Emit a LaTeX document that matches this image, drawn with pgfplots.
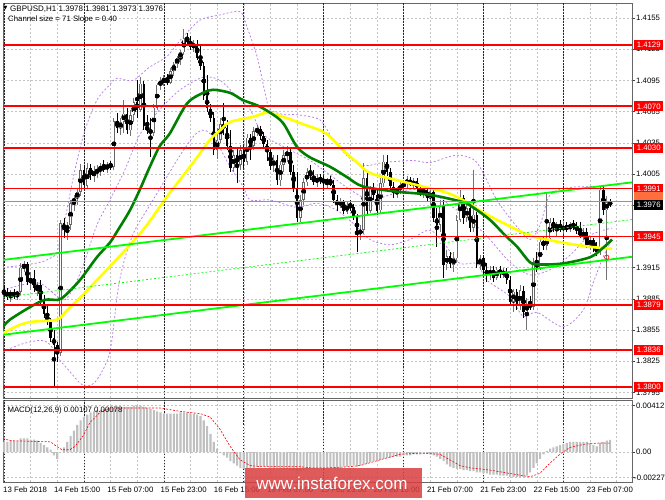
\documentclass[border=0pt]{standalone}
\usepackage{pgfplots}
\pgfplotsset{compat=1.18}
\usepackage{pgfplotstable}
\usepackage{fontspec}
\setmainfont{Liberation Sans}
\newfontfamily\dejavu{DejaVu Sans}
\newcommand\lbl{\fontsize{7.8}{9}\selectfont}
\definecolor{mared}{RGB}{255,0,0}
\definecolor{malime}{RGB}{0,255,0}
\definecolor{magreen}{RGB}{0,128,0}
\definecolor{mayellow}{RGB}{255,255,0}
\definecolor{mabb}{RGB}{185,125,235}
\definecolor{gridgray}{RGB}{195,195,195}
\definecolor{histgray}{RGB}{192,192,192}
\definecolor{wmred}{RGB}{218,62,62}
\definecolor{askor}{RGB}{255,110,60}

\pgfplotstableread{
i o h l c
0 1.3892 1.3898 1.3886 1.3890
1 1.3890 1.3895 1.3884 1.3888
2 1.3888 1.3893 1.3882 1.3891
3 1.3891 1.3894 1.3885 1.3888
4 1.3888 1.3893 1.3884 1.3892
5 1.3892 1.3920 1.3889 1.3915
6 1.3915 1.3921 1.3911 1.3918
7 1.3918 1.3920 1.3898 1.3901
8 1.3901 1.3911 1.3893 1.3905
9 1.3905 1.3913 1.3892 1.3895
10 1.3895 1.3901 1.3888 1.3898
11 1.3898 1.3903 1.3879 1.3884
12 1.3884 1.3889 1.3867 1.3870
13 1.3870 1.3879 1.3860 1.3863
14 1.3863 1.3867 1.3843 1.3847
15 1.3847 1.3855 1.3799 1.3841
16 1.3841 1.3843 1.3824 1.3833
17 1.3833 1.3961 1.3830 1.3958
18 1.3958 1.3963 1.3944 1.3951
19 1.3951 1.3959 1.3942 1.3956
20 1.3956 1.3980 1.3951 1.3977
21 1.3977 1.3985 1.3970 1.3982
22 1.3982 1.3992 1.3975 1.3988
23 1.3988 1.4015 1.3984 1.4009
24 1.4009 1.4014 1.3990 1.3994
25 1.3994 1.4016 1.3992 1.4011
26 1.4011 1.4015 1.3999 1.4004
27 1.4004 1.4013 1.3997 1.4007
28 1.4007 1.4014 1.4001 1.4009
29 1.4009 1.4016 1.4003 1.4012
30 1.4012 1.4018 1.4007 1.4010
31 1.4010 1.4017 1.4006 1.4014
32 1.4014 1.4018 1.4009 1.4012
33 1.4012 1.4059 1.4009 1.4056
34 1.4056 1.4064 1.4044 1.4049
35 1.4049 1.4059 1.4043 1.4055
36 1.4055 1.4076 1.4045 1.4063
37 1.4063 1.4068 1.4043 1.4047
38 1.4047 1.4067 1.4042 1.4062
39 1.4062 1.4078 1.4055 1.4074
40 1.4074 1.4095 1.4059 1.4067
41 1.4067 1.4098 1.4065 1.4092
42 1.4092 1.4095 1.4047 1.4051
43 1.4051 1.4062 1.4044 1.4047
44 1.4047 1.4059 1.4021 1.4045
45 1.4045 1.4072 1.4042 1.4069
46 1.4069 1.4093 1.4067 1.4091
47 1.4091 1.4098 1.4086 1.4094
48 1.4094 1.4100 1.4090 1.4096
49 1.4096 1.4101 1.4091 1.4093
50 1.4093 1.4107 1.4092 1.4104
51 1.4104 1.4113 1.4099 1.4111
52 1.4111 1.4119 1.4107 1.4117
53 1.4117 1.4124 1.4110 1.4122
54 1.4122 1.4144 1.4119 1.4136
55 1.4136 1.4141 1.4129 1.4132
56 1.4132 1.4138 1.4124 1.4127
57 1.4127 1.4134 1.4122 1.4130
58 1.4130 1.4134 1.4115 1.4117
59 1.4117 1.4129 1.4105 1.4109
60 1.4109 1.4113 1.4076 1.4080
61 1.4080 1.4100 1.4065 1.4068
62 1.4068 1.4072 1.4055 1.4059
63 1.4059 1.4065 1.4023 1.4028
64 1.4028 1.4049 1.4020 1.4038
65 1.4038 1.4059 1.4035 1.4053
66 1.4053 1.4073 1.4043 1.4049
67 1.4049 1.4057 1.4028 1.4032
68 1.4032 1.4047 1.4007 1.4011
69 1.4011 1.4028 1.4007 1.4023
70 1.4023 1.4030 1.3996 1.4014
71 1.4014 1.4033 1.4009 1.4028
72 1.4028 1.4032 1.4011 1.4017
73 1.4017 1.4043 1.4014 1.4040
74 1.4040 1.4043 1.4018 1.4032
75 1.4032 1.4050 1.4028 1.4046
76 1.4046 1.4052 1.4042 1.4048
77 1.4048 1.4051 1.4038 1.4042
78 1.4042 1.4045 1.4030 1.4034
79 1.4034 1.4038 1.4018 1.4026
80 1.4026 1.4030 1.4009 1.4013
81 1.4013 1.4023 1.4007 1.4018
82 1.4018 1.4023 1.3994 1.3999
83 1.3999 1.4018 1.3994 1.4014
84 1.4014 1.4028 1.4007 1.4023
85 1.4023 1.4032 1.4017 1.4026
86 1.4026 1.4030 1.4004 1.4007
87 1.4007 1.4014 1.3988 1.3992
88 1.3992 1.4007 1.3959 1.3963
89 1.3963 1.3985 1.3959 1.3980
90 1.3980 1.4001 1.3975 1.3997
91 1.3997 1.4011 1.3994 1.4007
92 1.4007 1.4014 1.3999 1.4003
93 1.4003 1.4009 1.3994 1.3997
94 1.3997 1.4005 1.3993 1.4001
95 1.4001 1.4005 1.3995 1.3999
96 1.3999 1.4003 1.3994 1.3997
97 1.3997 1.4001 1.3992 1.3999
98 1.3999 1.4003 1.3993 1.3995
99 1.3995 1.3999 1.3977 1.3980
100 1.3980 1.3985 1.3970 1.3975
101 1.3975 1.3982 1.3972 1.3979
102 1.3979 1.3980 1.3967 1.3969
103 1.3969 1.3978 1.3967 1.3975
104 1.3975 1.3980 1.3970 1.3973
105 1.3973 1.3976 1.3961 1.3964
106 1.3964 1.3967 1.3930 1.3948
107 1.3948 1.3956 1.3942 1.3951
108 1.3951 1.4016 1.3947 1.4001
109 1.4001 1.4007 1.3966 1.3970
110 1.3970 1.3994 1.3968 1.3992
111 1.3992 1.3996 1.3980 1.3985
112 1.3985 1.3992 1.3966 1.3970
113 1.3970 1.4001 1.3968 1.3996
114 1.3996 1.4023 1.3993 1.4017
115 1.4017 1.4023 1.4003 1.4007
116 1.4007 1.4011 1.3990 1.3993
117 1.3993 1.3997 1.3982 1.3987
118 1.3987 1.3993 1.3982 1.3991
119 1.3991 1.3997 1.3986 1.3993
120 1.3993 1.3999 1.3990 1.3996
121 1.3996 1.4003 1.3992 1.3999
122 1.3999 1.4002 1.3993 1.3995
123 1.3995 1.4001 1.3991 1.3998
124 1.3998 1.4001 1.3988 1.3991
125 1.3991 1.3995 1.3984 1.3987
126 1.3987 1.3993 1.3982 1.3990
127 1.3990 1.3993 1.3978 1.3982
128 1.3982 1.3992 1.3975 1.3988
129 1.3988 1.3990 1.3959 1.3963
130 1.3963 1.3972 1.3935 1.3956
131 1.3956 1.3980 1.3949 1.3975
132 1.3975 1.3980 1.3905 1.3918
133 1.3918 1.3932 1.3913 1.3926
134 1.3926 1.3930 1.3915 1.3918
135 1.3918 1.3930 1.3911 1.3924
136 1.3924 1.3966 1.3920 1.3961
137 1.3961 1.3990 1.3959 1.3982
138 1.3982 1.3985 1.3957 1.3963
139 1.3963 1.3975 1.3959 1.3972
140 1.3972 1.3975 1.3949 1.3953
141 1.3953 1.4009 1.3949 1.3966
142 1.3966 1.3968 1.3915 1.3918
143 1.3918 1.3927 1.3913 1.3924
144 1.3924 1.3927 1.3908 1.3913
145 1.3913 1.3920 1.3901 1.3908
146 1.3908 1.3917 1.3903 1.3913
147 1.3913 1.3917 1.3901 1.3905
148 1.3905 1.3916 1.3903 1.3913
149 1.3913 1.3917 1.3905 1.3909
150 1.3909 1.3915 1.3905 1.3911
151 1.3911 1.3915 1.3899 1.3903
152 1.3903 1.3907 1.3878 1.3882
153 1.3882 1.3895 1.3872 1.3892
154 1.3892 1.3895 1.3874 1.3878
155 1.3878 1.3898 1.3874 1.3893
156 1.3893 1.3897 1.3867 1.3872
157 1.3872 1.3886 1.3855 1.3880
158 1.3880 1.3888 1.3874 1.3877
159 1.3877 1.3924 1.3874 1.3920
160 1.3920 1.3930 1.3911 1.3915
161 1.3915 1.3943 1.3913 1.3940
162 1.3940 1.3945 1.3932 1.3936
163 1.3936 1.3987 1.3932 1.3943
164 1.3943 1.3963 1.3942 1.3959
165 1.3959 1.3963 1.3949 1.3953
166 1.3953 1.3959 1.3945 1.3956
167 1.3956 1.3961 1.3949 1.3951
168 1.3951 1.3959 1.3947 1.3955
169 1.3955 1.3959 1.3949 1.3952
170 1.3952 1.3959 1.3949 1.3957
171 1.3957 1.3961 1.3951 1.3954
172 1.3954 1.3959 1.3947 1.3951
173 1.3951 1.3959 1.3943 1.3945
174 1.3945 1.3953 1.3942 1.3949
175 1.3949 1.3953 1.3934 1.3937
176 1.3937 1.3945 1.3932 1.3942
177 1.3942 1.3943 1.3930 1.3934
178 1.3934 1.3940 1.3926 1.3930
179 1.3930 1.3994 1.3927 1.3990
180 1.3990 1.3994 1.3966 1.3970
181 1.3970 1.3984 1.3903 1.3978
182 1.3978 1.3981 1.3973 1.3976
}\candles

\pgfplotstableread{
i v
0 0.0009
1 0.0009
2 0.0010
3 0.0010
4 0.0010
5 0.0012
6 0.0012
7 0.0012
8 0.0011
9 0.0011
10 0.0010
11 0.0008
12 0.0006
13 0.0004
14 0.0002
15 -0.0003
16 -0.0006
17 0.0000
18 0.0004
19 0.0009
20 0.0014
21 0.0019
22 0.0024
23 0.0028
24 0.0031
25 0.0033
26 0.0035
27 0.0036
28 0.0037
29 0.0037
30 0.0038
31 0.0038
32 0.0038
33 0.0039
34 0.0039
35 0.0039
36 0.0040
37 0.0040
38 0.0040
39 0.0041
40 0.0041
41 0.0041
42 0.0040
43 0.0039
44 0.0038
45 0.0037
46 0.0036
47 0.0035
48 0.0034
49 0.0034
50 0.0034
51 0.0034
52 0.0034
53 0.0035
54 0.0035
55 0.0035
56 0.0034
57 0.0034
58 0.0033
59 0.0032
60 0.0028
61 0.0023
62 0.0016
63 0.0009
64 0.0003
65 -0.0001
66 -0.0003
67 -0.0005
68 -0.0008
69 -0.0010
70 -0.0012
71 -0.0014
72 -0.0015
73 -0.0015
74 -0.0014
75 -0.0014
76 -0.0013
77 -0.0013
78 -0.0013
79 -0.0013
80 -0.0014
81 -0.0014
82 -0.0014
83 -0.0015
84 -0.0015
85 -0.0015
86 -0.0016
87 -0.0016
88 -0.0017
89 -0.0017
90 -0.0016
91 -0.0015
92 -0.0015
93 -0.0015
94 -0.0014
95 -0.0014
96 -0.0014
97 -0.0014
98 -0.0014
99 -0.0014
100 -0.0014
101 -0.0014
102 -0.0013
103 -0.0013
104 -0.0012
105 -0.0012
106 -0.0013
107 -0.0012
108 -0.0011
109 -0.0010
110 -0.0009
111 -0.0008
112 -0.0007
113 -0.0007
114 -0.0006
115 -0.0005
116 -0.0005
117 -0.0004
118 -0.0004
119 -0.0004
120 -0.0003
121 -0.0003
122 -0.0003
123 -0.0002
124 -0.0002
125 -0.0002
126 -0.0001
127 -0.0001
128 -0.0002
129 -0.0003
130 -0.0004
131 -0.0006
132 -0.0008
133 -0.0011
134 -0.0013
135 -0.0014
136 -0.0015
137 -0.0015
138 -0.0016
139 -0.0016
140 -0.0017
141 -0.0017
142 -0.0018
143 -0.0018
144 -0.0019
145 -0.0019
146 -0.0020
147 -0.0020
148 -0.0020
149 -0.0021
150 -0.0021
151 -0.0021
152 -0.0022
153 -0.0022
154 -0.0022
155 -0.0022
156 -0.0022
157 -0.0021
158 -0.0018
159 -0.0014
160 -0.0010
161 -0.0006
162 -0.0002
163 0.0001
164 0.0003
165 0.0004
166 0.0005
167 0.0006
168 0.0007
169 0.0008
170 0.0009
171 0.0009
172 0.0009
173 0.0009
174 0.0009
175 0.0009
176 0.0008
177 0.0006
178 0.0005
179 0.0008
180 0.0009
181 0.0010
182 0.00107
}\macdtab

\begin{document}
\begin{tikzpicture}
\useasboundingbox (0,0) rectangle (665pt,499pt);
\fill[white] (0,0) rectangle (665pt,499pt);

\begin{axis}[name=main, at={(3pt,101pt)}, anchor=south west,
  scale only axis, width=629pt, height=395pt,
  xmin=-0.3, xmax=188.59, ymin=1.378962, ymax=1.416942,
  clip mode=individual,
  axis line style={black!60, line width=0.9pt},
  xtick={0,8,...,184}, xticklabels={}, xtick style={draw=none},
  extra x ticks={0,24,48,72,96,120,144,168}, extra x tick labels={},
  extra x tick style={grid=major, tick style={draw=none},
     major grid style={black!85, dash pattern=on 1.5pt off 1.5pt, line width=0.6pt}},
  ytick={1.3795,1.3825,1.3855,1.3885,1.3915,1.3945,1.3975,1.4005,1.4035,1.4065,1.4095,1.4125,1.4155},
  yticklabels={}, ytick pos=right, tick align=outside, major tick length=3pt,
  ytick style={black!75, line width=0.5pt},
  grid=major, major grid style={gridgray, dash pattern=on 2pt off 2pt, line width=0.5pt},
]
% Bollinger bands
\addplot[mabb, dash pattern=on 2pt off 2pt, line width=0.75pt, smooth, tension=0.5] coordinates {
(-0.3,1.3915) (4.8,1.3917) (10.8,1.3920) (13.8,1.3924) (15.9,1.3930) (18.3,1.3961) (21.3,1.4009) (24.3,1.4047) (27.9,1.4076) (31.8,1.4091) (33.9,1.4097) (38.7,1.4095) (43.8,1.4108) (48.9,1.4118) (53.8,1.4137) (58.9,1.4153) (64.9,1.4158) (70.9,1.4161) (73.0,1.4146) (76.0,1.4118) (78.4,1.4083) (79.9,1.4067) (84.4,1.4062) (88.0,1.4062) (94.9,1.4057) (98.8,1.4038) (103.9,1.4020) (108.4,1.4013) (113.8,1.4016) (122.8,1.4018) (127.9,1.4016) (136.0,1.4023) (142.0,1.4016) (148.0,1.3980) (154.1,1.3954) (158.0,1.3942) (161.0,1.3956) (164.0,1.3985) (170.0,1.3992) (178.1,1.3993) (182.6,1.3994)};
\addplot[mabb, dash pattern=on 2pt off 2pt, line width=0.75pt, smooth, tension=0.5] coordinates {
(-0.3,1.3893) (4.8,1.3898) (10.8,1.3900) (15.3,1.3889) (18.3,1.3884) (21.3,1.3898) (24.3,1.3922) (27.9,1.3956) (31.8,1.3980) (36.3,1.4009) (40.8,1.4043) (46.8,1.4067) (52.9,1.4086) (59.8,1.4098) (64.9,1.4095) (70.0,1.4079) (73.9,1.4067) (76.9,1.4047) (79.9,1.4038) (85.9,1.4028) (91.9,1.4018) (97.9,1.4004) (103.9,1.3990) (109.9,1.3980) (115.9,1.3985) (121.9,1.3990) (127.9,1.3988) (133.9,1.3975) (139.9,1.3961) (145.9,1.3942) (152.0,1.3920) (158.0,1.3908) (164.0,1.3913) (170.0,1.3927) (176.0,1.3946) (182.6,1.3953)};
\addplot[mabb, dash pattern=on 2pt off 2pt, line width=0.75pt, smooth, tension=0.5] coordinates {
(-0.3,1.3834) (4.8,1.3841) (10.8,1.3845) (13.8,1.3841) (16.8,1.3826) (19.8,1.3815) (22.8,1.3804) (24.9,1.3801) (27.9,1.3807) (31.8,1.3834) (34.2,1.3893) (36.3,1.3924) (39.3,1.3951) (43.8,1.3975) (48.3,1.3999) (52.9,1.4023) (57.4,1.4043) (60.4,1.4047) (63.4,1.4038) (67.9,1.4012) (71.8,1.3993) (73.9,1.3980) (79.9,1.3980) (88.0,1.3973) (94.0,1.3977) (100.0,1.3970) (105.4,1.3956) (109.9,1.3942) (115.9,1.3937) (121.9,1.3942) (127.9,1.3951) (132.4,1.3937) (136.9,1.3919) (142.0,1.3919) (145.0,1.3903) (152.0,1.3887) (155.9,1.3868) (160.1,1.3872) (167.9,1.3858) (173.9,1.3874) (176.9,1.3900) (179.9,1.3925) (182.6,1.3942)};

% candles: wicks
\addplot[only marks, mark=none, forget plot, error bars/.cd, y dir=both, y explicit, error mark=none,
  error bar style={line width=0.8pt, draw=black!55}]
  table[x=i, y expr={(\thisrow{h}+\thisrow{l})/2},
        y error expr={\thisrow{c}>\thisrow{o} ? (\thisrow{h}-\thisrow{l})/2 : 0}] {\candles};
\addplot[only marks, mark=none, forget plot, error bars/.cd, y dir=both, y explicit, error mark=none,
  error bar style={line width=0.8pt, draw=black}]
  table[x=i, y expr={(\thisrow{h}+\thisrow{l})/2},
        y error expr={\thisrow{c}>\thisrow{o} ? 0 : (\thisrow{h}-\thisrow{l})/2}] {\candles};
% bull bodies
\addplot[only marks, mark=none, forget plot, error bars/.cd, y dir=both, y explicit, error mark=none,
  error bar style={line width=2.5pt, draw=black!60}]
  table[x=i, y expr={(\thisrow{o}+\thisrow{c})/2},
        y error expr={\thisrow{c}>\thisrow{o} ? max((\thisrow{c}-\thisrow{o})/2,0.00004) : 0}] {\candles};
\addplot[only marks, mark=none, forget plot, error bars/.cd, y dir=both, y explicit, error mark=none,
  error bar style={line width=1.0pt, draw=white}]
  table[x=i, y expr={(\thisrow{o}+\thisrow{c})/2},
        y error expr={\thisrow{c}>\thisrow{o} ? max((\thisrow{c}-\thisrow{o})/2-0.00007,0) : 0}] {\candles};
% bear bodies
\addplot[only marks, mark=none, forget plot, error bars/.cd, y dir=both, y explicit, error mark=none,
  error bar style={line width=2.5pt, draw=black}]
  table[x=i, y expr={(\thisrow{o}+\thisrow{c})/2},
        y error expr={\thisrow{c}>\thisrow{o} ? 0 : max((\thisrow{o}-\thisrow{c})/2,0.00004)}] {\candles};

% moving averages
\addplot[mayellow, line width=2.6pt, smooth, tension=0.5] coordinates {
(-0.3,1.3852) (4.8,1.3860) (8.7,1.3863) (15.9,1.3865) (18.9,1.3874) (22.8,1.3886) (27.9,1.3903) (31.8,1.3916) (41.7,1.3951) (48.9,1.3983) (56.8,1.4016) (61.9,1.4038) (64.9,1.4047) (67.9,1.4055) (74.8,1.4060) (79.0,1.4064) (83.8,1.4060) (88.9,1.4054) (94.9,1.4047) (97.9,1.4041) (101.8,1.4028) (106.0,1.4016) (109.9,1.4006) (118.0,1.3999) (125.8,1.3993) (133.0,1.3987) (137.8,1.3980) (142.9,1.3970) (148.0,1.3961) (157.9,1.3946) (167.8,1.3939) (176.0,1.3935) (182.6,1.3933)};
\addplot[magreen, line width=2.6pt, smooth, tension=0.5] coordinates {
(-0.3,1.3858) (1.8,1.3865) (7.8,1.3877) (12.3,1.3884) (16.2,1.3884) (18.3,1.3888) (22.8,1.3903) (27.9,1.3925) (31.8,1.3939) (34.2,1.3951) (37.8,1.3970) (40.8,1.3990) (43.8,1.4012) (46.8,1.4032) (49.8,1.4044) (55.0,1.4073) (59.8,1.4083) (62.8,1.4086) (67.9,1.4083) (71.8,1.4076) (76.0,1.4071) (79.9,1.4064) (83.8,1.4054) (88.0,1.4031) (91.9,1.4021) (97.9,1.4012) (103.0,1.4002) (107.8,1.3993) (118.0,1.3988) (127.9,1.3985) (137.8,1.3978) (140.8,1.3973) (145.9,1.3961) (150.5,1.3946) (154.1,1.3935) (158.0,1.3920) (161.0,1.3918) (167.9,1.3919) (176.0,1.3925) (179.9,1.3934) (182.6,1.3942)};

% regression channel
\addplot[malime, line width=1.8pt] coordinates {(-0.3,1.39224) (188.59,1.39970)};
\addplot[malime, line width=1.8pt] coordinates {(-0.3,1.38504) (188.59,1.39254)};
\addplot[malime, line width=0.7pt, dash pattern=on 2pt off 2pt] coordinates {(-0.3,1.38864) (188.59,1.39612)};

% horizontal levels
\pgfplotsinvokeforeach{1.4129,1.4070,1.4030,1.3991,1.3945,1.3879,1.3836,1.3800}{
  \addplot[mared, line width=1.8pt] coordinates {(-0.3,#1) (188.59,#1)};
}
\addplot[askor, line width=0.6pt] coordinates {(-0.3,1.3979) (188.59,1.3979)};
\addplot[only marks, mark=o, mark size=2.2pt, mark options={red, line width=0.6pt}] coordinates {(181,1.3925)};

% right scale labels
\pgfplotsinvokeforeach{1.4155,1.4125,1.4095,1.4065,1.4035,1.4005,1.3975,1.3945,1.3915,1.3885,1.3855,1.3825,1.3795}{
  \node[anchor=west, inner sep=0pt, xshift=4pt, font=\lbl] at (axis cs:188.59,#1) {#1};
}
\pgfplotsinvokeforeach{1.4129,1.4070,1.4030,1.3991,1.3945,1.3879,1.3836,1.3800}{
  \node[anchor=west, inner sep=0pt, xshift=2pt, fill=mared, text=white, minimum width=29pt, minimum height=10pt, font=\lbl] at (axis cs:188.59,#1) {#1};
}
\node[anchor=west, inner sep=0pt, xshift=2pt, fill=askor, minimum width=29pt, minimum height=10pt] at (axis cs:188.59,1.3983) {};
\node[anchor=west, inner sep=0pt, xshift=2pt, fill=black, text=white, minimum width=29pt, minimum height=10pt, font=\lbl] at (axis cs:188.59,1.3975) {1.3976};
\end{axis}

\begin{axis}[name=macd, at={(3pt,17pt)}, anchor=south west,
  scale only axis, width=629pt, height=82pt,
  xmin=-0.3, xmax=188.59, ymin=-0.002657, ymax=0.004606,
  clip mode=individual,
  axis line style={black!60, line width=0.9pt},
  xtick={0,8,...,184}, xticklabels={}, xtick style={draw=none},
  extra x ticks={0,24,48,72,96,120,144,168}, extra x tick labels={},
  extra x tick style={grid=major, tick style={draw=none},
     major grid style={black!85, dash pattern=on 1.5pt off 1.5pt, line width=0.6pt}},
  ytick={-0.00227,0,0.00412}, yticklabels={}, ytick pos=right, tick align=outside, major tick length=3pt,
  ytick style={black!75, line width=0.5pt},
  scaled y ticks=false,
  grid=major, major grid style={gridgray, dash pattern=on 2pt off 2pt, line width=0.5pt},
]
\addplot[ybar, bar width=2.1pt, fill=histgray, draw=none] table[x=i, y=v] {\macdtab};
\addplot[red, line width=0.6pt, dash pattern=on 2pt off 1.5pt] coordinates {
(-0.3,0.0012) (2,0.0010) (14,0.0009) (15.3,0.0006) (17.4,0.0002) (19.8,0.0002) (21.3,0.0005) (23.7,0.0014) (25.8,0.0026) (28.8,0.0035) (31.8,0.0039) (46.8,0.0039) (52.9,0.0036) (58.9,0.0034) (61.9,0.0031) (64.9,0.0020) (67.9,0.0005) (70.9,-0.0007) (73.9,-0.0012) (76.9,-0.0013) (88.9,-0.0013) (91.9,-0.0014) (97.9,-0.0014) (103.9,-0.0013) (106.9,-0.0012) (112.9,-0.0007) (118.9,-0.0002) (124.9,-0.0001) (130.9,-0.0002) (133.9,-0.0007) (136.9,-0.0012) (139.9,-0.0014) (145.9,-0.0016) (151.9,-0.0019) (157.9,-0.0022) (160.9,-0.0019) (163.9,-0.0010) (166.9,-0.0002) (169.9,0.0004) (174.5,0.0007) (178.9,0.0008) (182,0.00078)};
\node[anchor=west, inner sep=0pt, xshift=4pt, font=\lbl] at (axis cs:188.59,0.00412) {0.00412};
\node[anchor=west, inner sep=0pt, xshift=4pt, font=\lbl] at (axis cs:188.59,0) {0.00};
\node[anchor=west, inner sep=0pt, xshift=2pt, font=\lbl] at (axis cs:188.59,-0.00227) {-0.00227};
\node[anchor=base west, inner sep=0pt, font=\lbl] at (axis cs:1,0.00352) {MACD(12,26,9) 0.00107 0.00078};
% date labels
\node[anchor=base west, inner sep=0pt, yshift=-10.7pt, font=\lbl] at (axis cs:-0.3,-0.002657) {13 Feb 2018};
\node[anchor=base west, inner sep=0pt, yshift=-10.7pt, font=\lbl] at (axis cs:15,-0.002657) {14 Feb 15:00};
\node[anchor=base west, inner sep=0pt, yshift=-10.7pt, font=\lbl] at (axis cs:31,-0.002657) {15 Feb 07:00};
\node[anchor=base west, inner sep=0pt, yshift=-10.7pt, font=\lbl] at (axis cs:47,-0.002657) {15 Feb 23:00};
\node[anchor=base west, inner sep=0pt, yshift=-10.7pt, font=\lbl] at (axis cs:63,-0.002657) {16 Feb 15:00};
\node[anchor=base west, inner sep=0pt, yshift=-10.7pt, font=\lbl] at (axis cs:79,-0.002657) {19 Feb 07:00};
\node[anchor=base west, inner sep=0pt, yshift=-10.7pt, font=\lbl] at (axis cs:95,-0.002657) {19 Feb 23:00};
\node[anchor=base west, inner sep=0pt, yshift=-10.7pt, font=\lbl] at (axis cs:111,-0.002657) {20 Feb 15:00};
\node[anchor=base west, inner sep=0pt, yshift=-10.7pt, font=\lbl] at (axis cs:127,-0.002657) {21 Feb 07:00};
\node[anchor=base west, inner sep=0pt, yshift=-10.7pt, font=\lbl] at (axis cs:143,-0.002657) {21 Feb 23:00};
\node[anchor=base west, inner sep=0pt, yshift=-10.7pt, font=\lbl] at (axis cs:159,-0.002657) {22 Feb 15:00};
\node[anchor=base west, inner sep=0pt, yshift=-10.7pt, font=\lbl] at (axis cs:175,-0.002657) {23 Feb 07:00};
\end{axis}

% header texts
\node[anchor=base west, inner sep=0pt, font={\dejavu\fontsize{5}{6}\selectfont}] at (3.5pt,489.5pt) {▼};
\node[anchor=base west, inner sep=0pt, font={\fontsize{8}{9}\selectfont}] at (10pt,487.3pt) {GBPUSD,H1 1.3978 1.3981 1.3973 1.3976};
\node[anchor=base west, inner sep=0pt, font=\lbl] at (8pt,477.6pt) {Channel size = 71 Slope = 0.40};

% watermark
\fill[wmred, opacity=0.85] (245pt,1pt) rectangle (422pt,31pt);
\node[text=white, inner sep=0pt, font={\fontsize{17}{19}\selectfont}] at (332pt,16pt) {www.instaforex.com};
\end{tikzpicture}
\end{document}
